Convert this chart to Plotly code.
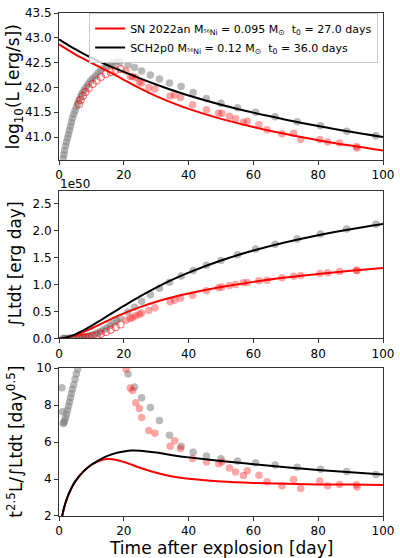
import plotly.graph_objects as go

# ---------------- data ----------------
# Panel 1: log10 L
grey_t = [1.31, 1.52, 1.72, 2.02, 2.32, 2.63, 2.93, 3.23, 3.54, 3.84, 4.14, 4.55, 4.95, 5.35, 5.76,
          6.16, 6.67, 7.17, 7.78, 8.38, 8.99, 9.70, 10.40, 11.21, 12.02, 12.83, 13.74, 14.75, 15.76,
          16.77, 17.78, 18.79,
          21.3, 23.3, 25.5, 28.2, 31.0, 34.1, 37.7, 41.4, 45.5, 50.0, 55.1, 60.7, 66.7, 73.5, 80.7,
          88.8, 97.8]
grey_logL = [40.57, 40.65, 40.73, 40.82, 40.90, 40.98, 41.06, 41.14, 41.22, 41.30, 41.38, 41.46, 41.53,
             41.61, 41.68, 41.75, 41.82, 41.89, 41.95, 42.01, 42.07, 42.13, 42.18, 42.23, 42.29, 42.34,
             42.39, 42.43, 42.47, 42.50, 42.52, 42.52,
             42.46, 42.40, 42.33, 42.25, 42.17, 42.09, 42.02, 41.90, 41.78, 41.68, 41.59, 41.50, 41.41,
             41.31, 41.23, 41.12, 41.03]
grey_int = [0.0, 0.0, 0.0, 0.0, 0.0, 0.001, 0.001, 0.001, 0.002, 0.002, 0.003, 0.004, 0.005, 0.006,
            0.008, 0.010, 0.013, 0.017, 0.023, 0.030, 0.040, 0.052, 0.066, 0.085, 0.106, 0.130, 0.160,
            0.198, 0.240, 0.285, 0.330, 0.375,
            0.49, 0.58, 0.69, 0.81, 0.93, 1.044, 1.16, 1.26, 1.355, 1.447, 1.551, 1.656, 1.747, 1.844,
            1.936, 2.027, 2.119]

grey3_t = [0.9, 1.1, 1.31, 1.52, 1.72, 2.02, 2.32, 2.63, 2.93, 3.23, 3.54, 3.84, 4.14, 4.55, 4.95,
           5.35, 5.76, 6.16,
           21.3, 23.3, 25.5, 28.2, 31.0, 34.1, 37.7, 41.4, 45.5, 50.0, 55.1, 60.7, 66.7, 73.5, 80.7,
           88.8, 97.8]
grey3_val = [8.93, 7.64, 7.0, 7.05, 7.15, 7.3, 7.5, 7.72, 7.95, 8.17, 8.4, 8.62, 8.85, 9.1, 9.4,
             9.68, 9.95, 10.2,
             9.68, 8.97, 8.40, 7.87, 7.17, 6.37, 5.77, 5.45, 5.24, 5.09, 4.97, 4.88, 4.76, 4.63, 4.53,
             4.40, 4.24]

red_open_t = [6.16, 6.67, 7.37, 8.18, 9.19, 10.40, 11.61, 12.93, 14.44, 15.96, 17.47, 19.0]
red_open_logL = [41.66, 41.75, 41.83, 41.91, 41.99, 42.07, 42.14, 42.21, 42.27, 42.31, 42.35, 42.37]
red_open_int = [0.005, 0.01, 0.015, 0.02, 0.03, 0.045, 0.06, 0.085, 0.12, 0.16, 0.21, 0.26]

red_t = [20.7, 22.0, 22.7, 23.7, 24.8, 25.5, 27.7, 29.6, 34.3, 35.7, 37.5, 41.2, 45.5, 49.3, 50.3,
         52.6, 54.5, 56.9, 58.1, 61.7, 64.2, 68.8, 72.4, 74.6, 80.5, 82.9, 86.6, 91.8, 92.0]
red_logL = [42.33, 42.22, 42.22, 42.20, 42.11, 42.09, 42.00, 41.97, 41.83, 41.85, 41.80, 41.65, 41.55,
            41.48, 41.48, 41.42, 41.37, 41.30, 41.32, 41.25, 41.15, 41.07, 41.08, 40.95, 40.95, 40.90,
            40.88, 40.81, 40.78]
red_int = [0.337, 0.37, 0.39, 0.42, 0.45, 0.47, 0.52, 0.57, 0.68, 0.71, 0.745, 0.80, 0.886, 0.94,
           0.952, 0.983, 1.0, 1.033, 1.038, 1.07, 1.08, 1.124, 1.154, 1.167, 1.203, 1.216, 1.24,
           1.264, 1.26]
red_ratio = [9.95, 8.92, 8.79, 8.12, 7.81, 7.32, 6.62, 6.48, 5.77, 6.07, 5.65, 5.11, 4.92, 4.83, 4.93,
             4.60, 4.38, 4.19, 4.45, 4.21, 3.85, 3.64, 3.97, 3.49, 3.89, 3.64, 3.71, 3.69, 3.57]

# model curves
line_t = [0, 1, 2, 3, 4, 5, 7.5, 10, 12.5, 15, 17.5, 20, 25, 30, 35, 40, 50, 60, 70, 80, 90, 100]
black_logL = [42.969, 42.928, 42.887, 42.848, 42.809, 42.771, 42.681, 42.596, 42.519, 42.448, 42.380,
              42.314, 42.184, 42.060, 41.944, 41.839, 41.653, 41.493, 41.351, 41.223, 41.108, 41.002]
red_line_logL = [42.867, 42.826, 42.786, 42.746, 42.708, 42.669, 42.579, 42.494, 42.413, 42.331,
                 42.244, 42.155, 41.982, 41.826, 41.689, 41.569, 41.368, 41.203, 41.061, 40.938,
                 40.829, 40.729]
black_int = [0.0, 0.0038, 0.0145, 0.0308, 0.0518, 0.0765, 0.1496, 0.234, 0.324, 0.417, 0.511, 0.604,
             0.782, 0.944, 1.090, 1.221, 1.445, 1.629, 1.782, 1.913, 2.024, 2.120]
red_line_int = [0.0, 0.003, 0.0115, 0.0244, 0.041, 0.0606, 0.1185, 0.185, 0.256, 0.328, 0.399, 0.465,
                0.582, 0.681, 0.764, 0.835, 0.954, 1.049, 1.128, 1.195, 1.253, 1.304]

ratio_t = [0.5, 1, 1.5, 2, 3, 4, 5, 7.5, 10, 12.5, 15, 17.5, 20, 22.5, 25, 30, 35, 40, 50, 60, 70, 80,
           90, 100]
black_ratio = [1.42, 2.0, 2.40, 2.71, 3.19, 3.57, 3.87, 4.40, 4.77, 5.04, 5.25, 5.40, 5.49, 5.54, 5.53,
               5.43, 5.29, 5.17, 4.97, 4.80, 4.64, 4.49, 4.36, 4.24]
red_ratio_line = [1.42, 2.0, 2.40, 2.70, 3.18, 3.56, 3.86, 4.41, 4.77, 4.99, 5.08, 5.04, 4.92, 4.77,
                  4.61, 4.34, 4.14, 4.01, 3.87, 3.79, 3.74, 3.71, 3.70, 3.68]

leg_red = "SN 2022an M<sub>⁵⁶Ni</sub> = 0.095 M<sub>⊙</sub>  t<sub>0</sub> = 27.0 days"
leg_black = "SCH2p0 M<sub>⁵⁶Ni</sub> = 0.12 M<sub>⊙</sub>  t<sub>0</sub> = 36.0 days"

# ---------------- figure ----------------
W, H = 400, 558
ML, MR, MT, MB = 59, 12, 6, 42
FONT = "DejaVu Sans"
GREY = "rgba(128,128,128,0.55)"
RED_F = "rgba(255,0,0,0.35)"
RED_O = "rgba(255,0,0,0.55)"

fig = go.Figure()

def pts(x, y, ax, color, open_=False):
    if open_:
        m = dict(size=7, color=color, symbol="circle-open", line=dict(width=1.1, color=color))
    else:
        m = dict(size=7.5, color=color, symbol="circle", line=dict(width=0))
    fig.add_trace(go.Scatter(x=x, y=y, mode="markers", marker=m, showlegend=False,
                             xaxis="x" + ax, yaxis="y" + ax, hoverinfo="skip"))

def ln(x, y, ax, color, name=None):
    fig.add_trace(go.Scatter(x=x, y=y, mode="lines", line=dict(color=color, width=2, shape="spline"),
                             name=name, showlegend=name is not None,
                             xaxis="x" + ax, yaxis="y" + ax, hoverinfo="skip"))

# panel 1
pts(grey_t, grey_logL, "", GREY)
pts(red_open_t, red_open_logL, "", RED_O, open_=True)
pts(red_t, red_logL, "", RED_F)
ln(line_t, red_line_logL, "", "red", leg_red)
ln(line_t, black_logL, "", "black", leg_black)
# panel 2
pts(grey_t, grey_int, "2", GREY)
pts(red_open_t, red_open_int, "2", RED_O, open_=True)
pts(red_t, red_int, "2", RED_F)
ln(line_t, red_line_int, "2", "red")
ln(line_t, black_int, "2", "black")
# panel 3
pts(grey3_t, grey3_val, "3", GREY)
pts(red_t, red_ratio, "3", RED_F)
ln(ratio_t, red_ratio_line, "3", "red")
ln(ratio_t, black_ratio, "3", "black")

plot_h = H - MT - MB
def dom(top_px, bot_px):
    return [(H - MB - bot_px) / plot_h, (H - MB - top_px) / plot_h]

axis_common = dict(showline=True, linecolor="#333", linewidth=1, mirror=True, ticks="outside",
                   ticklen=4, tickcolor="#333", showgrid=False, zeroline=False,
                   tickfont=dict(family=FONT, size=12, color="black"))

fig.update_layout(
    width=W, height=H, margin=dict(l=ML, r=MR, t=MT, b=MB),
    paper_bgcolor="white", plot_bgcolor="white",
    font=dict(family=FONT, color="black"),
    xaxis=dict(domain=[0, 1], range=[0, 100], anchor="y", tickvals=[0, 20, 40, 60, 80, 100], **axis_common),
    yaxis=dict(domain=dom(6, 155), range=[40.54, 43.5], anchor="x",
               tickvals=[41.0, 41.5, 42.0, 42.5, 43.0, 43.5], tickformat=".1f", **axis_common),
    xaxis2=dict(domain=[0, 1], range=[0, 100], anchor="y2", tickvals=[0, 20, 40, 60, 80, 100], **axis_common),
    yaxis2=dict(domain=dom(186, 336), range=[0, 2.742], anchor="x2",
                tickvals=[0, 0.5, 1.0, 1.5, 2.0, 2.5], tickformat=".1f", **axis_common),
    xaxis3=dict(domain=[0, 1], range=[0, 100], anchor="y3", tickvals=[0, 20, 40, 60, 80, 100], **axis_common),
    yaxis3=dict(domain=dom(366, 516), range=[2, 10], anchor="x3",
                tickvals=[2, 4, 6, 8, 10], **axis_common),
    legend=dict(x=0.985, y=1.0, xanchor="right", yanchor="top",
                bgcolor="rgba(255,255,255,0.8)", bordercolor="#cccccc", borderwidth=1,
                font=dict(family=FONT, size=11, color="black"), tracegroupgap=0,
                itemwidth=30),
)

def px_x(p):
    return (p - ML) / (W - ML - MR)

def px_y(p):
    return (H - MB - p) / plot_h

anns = [
    dict(text="log<sub>10</sub>(L [erg/s])", x=px_x(14), y=px_y(80.5), textangle=-90, size=17),
    dict(text="∫Ltdt [erg day]", x=px_x(14), y=px_y(261), textangle=-90, size=17),
    dict(text="t<sup>2.5</sup>L/∫Ltdt [day<sup>0.5</sup>]", x=px_x(14), y=px_y(441), textangle=-90, size=17),
    dict(text="Time after explosion [day]", x=px_x(223.5), y=px_y(548), textangle=0, size=17),
]
for a in anns:
    fig.add_annotation(text=a["text"], x=a["x"], y=a["y"], xref="paper", yref="paper",
                       xanchor="center", yanchor="middle", textangle=a["textangle"], showarrow=False,
                       font=dict(family=FONT, size=a["size"], color="black"))
fig.add_annotation(text="1e50", x=px_x(58), y=px_y(188), xref="paper", yref="paper",
                   xanchor="left", yanchor="bottom", showarrow=False,
                   font=dict(family=FONT, size=12, color="black"))

fig.write_html("out.html")
